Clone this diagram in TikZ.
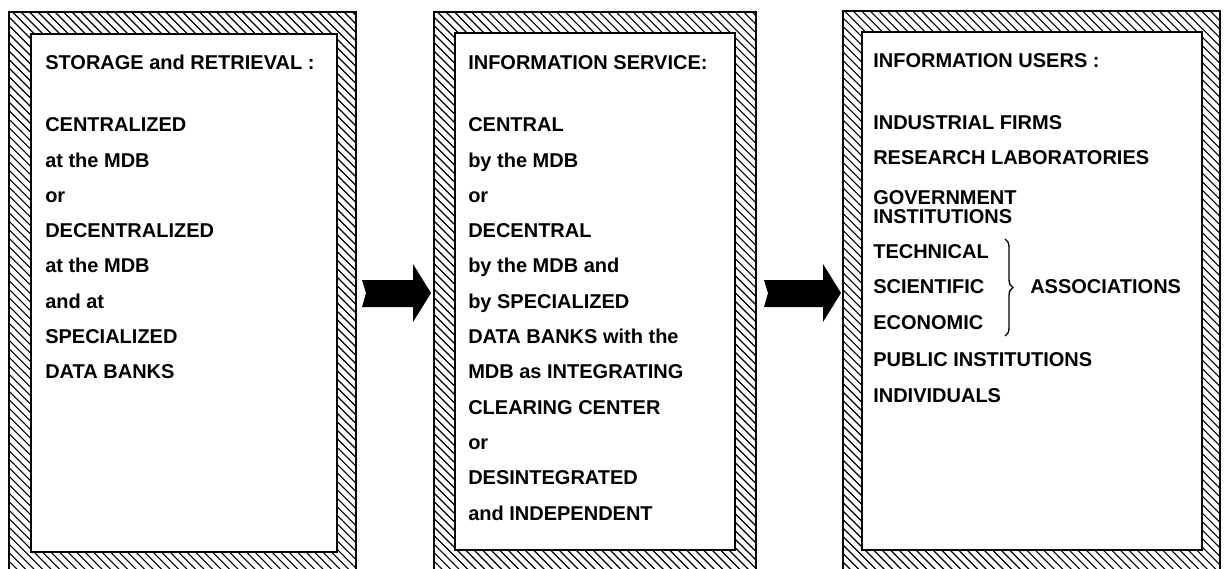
\documentclass[tikz,border=0pt]{standalone}
\usepackage{fontspec}
\setmainfont{Liberation Sans}
\usetikzlibrary{decorations.pathreplacing}

\tikzset{
  hatchline/.style={line width=0.8pt},
  outline/.style={line width=0.8pt},
  inbox/.style={draw,line width=1.2pt,fill=white},
  txt/.style={anchor=base west,inner sep=0pt,font=\bfseries\fontsize{15}{16}\selectfont},
  blockarrow/.style={fill=black},
  bracket/.style={decorate,decoration={brace,amplitude=6pt},line width=1pt},
}

\begin{document}
\begin{tikzpicture}[x=0.75pt,y=0.75pt]
    \useasboundingbox (0,0) rectangle (1227,-568);
    \clip (0,0) rectangle (1227,-568);

    % hatched frames
    \begin{scope}
        \clip (9,-12) rectangle (356,-600) (434,-12) rectangle (756,-600)
              (843,-11) rectangle (1220,-600);
        \foreach \k in {-620,-611.5,...,1230}
            \draw[hatchline] (\k,0) -- ++(620,-620);
    \end{scope}
    \draw[outline] (9,-600) -- (9,-12) -- (356,-12) -- (356,-600);
    \draw[outline] (434,-600) -- (434,-12) -- (756,-12) -- (756,-600);
    \draw[outline] (843,-600) -- (843,-11) -- (1220,-11) -- (1220,-600);
    \draw[inbox] (31,-34) rectangle (337,-552);
    \draw[inbox] (455,-33) rectangle (735,-550);
    \draw[inbox] (862,-32) rectangle (1202,-550);

    % storage and retrieval
    \node[txt] (s) at (45,-69) {STORAGE and RETRIEVAL :};
    \foreach \t [count=\i from 0] in {CENTRALIZED, at the MDB, or, DECENTRALIZED,
        at the MDB, and at, SPECIALIZED, DATA BANKS}
        \node[txt] (s\i) at (45,-131.7-35.3*\i) {\t};

    % information service
    \node[txt] (v) at (468,-69) {INFORMATION SERVICE:};
    \foreach \t [count=\i from 0] in {CENTRAL, by the MDB, or, DECENTRAL,
        by the MDB and, by SPECIALIZED, DATA BANKS with the, MDB as INTEGRATING,
        CLEARING CENTER, or, DESINTEGRATED, and INDEPENDENT}
        \node[txt] (v\i) at (468,-131.7-35.3*\i) {\t};

    % information users
    \node[txt] (u)   at (873,-67)  {INFORMATION USERS :};
    \node[txt] (ind) at (873,-129) {INDUSTRIAL FIRMS};
    \node[txt] (res) at (873,-164) {RESEARCH LABORATORIES};
    \node[txt] (gov) at (873,-204) {GOVERNMENT};
    \node[txt] (gin) at (873,-223) {INSTITUTIONS};
    \node[txt] (tec) at (873,-258) {TECHNICAL};
    \node[txt] (sci) at (873,-293) {SCIENTIFIC};
    \node[txt] (eco) at (873,-329) {ECONOMIC};
    \node[txt] (pub) at (873,-366) {PUBLIC INSTITUTIONS};
    \node[txt] (idv) at (873,-402) {INDIVIDUALS};
    \node[txt] (ass) at (1030,-293) {ASSOCIATIONS};

    \coordinate (bt) at (1005,-239);
    \coordinate (bb) at (1005,-336);
    \draw[bracket] (bt) -- (bb);

    % arrows
    \fill[blockarrow] (362,-280) -- (413,-280) -- (413,-264) -- (431,-293)
        -- (413,-322) -- (413,-307) -- (362,-307) -- (366,-293) -- cycle;
    \fill[blockarrow] (764,-280) -- (823,-280) -- (823,-264) -- (841,-293)
        -- (823,-322) -- (823,-307) -- (764,-307) -- (768,-293) -- cycle;
\end{tikzpicture}
\end{document}
